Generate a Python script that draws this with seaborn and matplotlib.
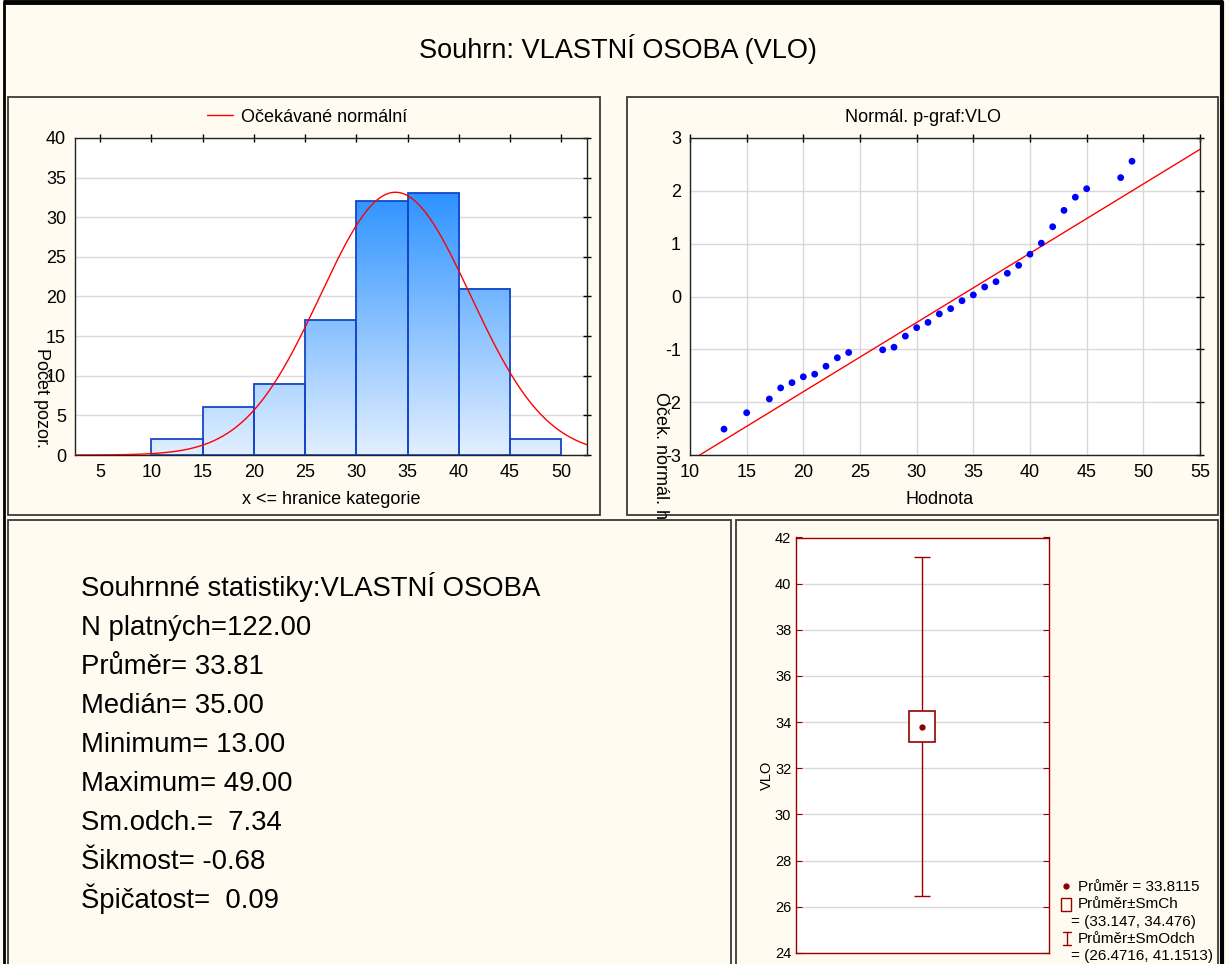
import numpy as np
import pandas as pd
import matplotlib
matplotlib.use("Agg")
import matplotlib.pyplot as plt
import seaborn as sns
from matplotlib.patches import Rectangle
from matplotlib.lines import Line2D
from matplotlib.colors import LinearSegmentedColormap, Normalize

# ---------------- data ----------------
bin_edges = [10, 15, 20, 25, 30, 35, 40, 45, 50]
bin_counts = [2, 6, 9, 17, 32, 33, 21, 2]
hist_xticks = [5, 10, 15, 20, 25, 30, 35, 40, 45, 50]
hist_yticks = [0, 5, 10, 15, 20, 25, 30, 35, 40]

n_valid = 122
mean_val = 33.8115
sd_val = 7.33985
median_val = 35.00
min_val = 13.00
max_val = 49.00
skew_val = -0.68
kurt_val = 0.09
se_low, se_high = 33.147, 34.476
sd_low, sd_high = 26.4716, 41.1513

pp_values = [13, 15, 17, 18, 19, 20, 21, 22, 23, 24, 27, 28, 29, 30, 31, 32,
             33, 34, 35, 36, 37, 38, 39, 40, 41, 42, 43, 44, 45, 48, 49]
pp_expected = [-2.51, -2.20, -1.94, -1.73, -1.63, -1.52, -1.47, -1.32, -1.16,
               -1.06, -1.01, -0.96, -0.75, -0.59, -0.49, -0.33, -0.23, -0.08,
               0.03, 0.18, 0.28, 0.44, 0.59, 0.80, 1.01, 1.32, 1.63, 1.88,
               2.04, 2.25, 2.56]
fit_center = 33.75
fit_scale = 7.63
pp_xticks = [10, 15, 20, 25, 30, 35, 40, 45, 50, 55]
pp_yticks = [-3, -2, -1, 0, 1, 2, 3]
box_yticks = [24, 26, 28, 30, 32, 34, 36, 38, 40, 42]

# ---------------- style ----------------
sns.set_style("white")
plt.rcParams["font.family"] = ["Liberation Sans", "DejaVu Sans"]
plt.rcParams["axes.unicode_minus"] = False
plt.rcParams["text.color"] = "black"
plt.rcParams["axes.labelcolor"] = "black"
plt.rcParams["xtick.color"] = "black"
plt.rcParams["ytick.color"] = "black"

W, H = 1230, 964
BG = "#FFFBF0"
DR = "#990000"
GRID = "#D9D9D9"

fig = plt.figure(figsize=(W / 100, H / 100), dpi=100)
fig.patch.set_facecolor(BG)

ov = fig.add_axes([0, 0, 1, 1], zorder=-5)
ov.set_xlim(0, W)
ov.set_ylim(H, 0)
ov.axis("off")

panels = [(8, 97, 600, 515), (627, 97, 1218, 515),
          (8, 520, 731, 990), (736, 520, 1218, 990)]
for x0, y0, x1, y1 in panels:
    ov.add_patch(Rectangle((x0, y0), x1 - x0, y1 - y0, facecolor=BG,
                           edgecolor="#3a3a3a", lw=1.3, zorder=1))
# outer frame
ov.plot([3, 1222], [2, 2], color="black", lw=3.5, solid_capstyle="butt", zorder=6)
ov.plot([3.5, 3.5], [2, H], color="black", lw=2, zorder=6)
ov.plot([1221.5, 1221.5], [2, H], color="black", lw=3, zorder=6)

ov.text(618, 49, "Souhrn: VLASTNÍ OSOBA (VLO)", ha="center", va="center",
        fontsize=19.5, color="black")


def ax_rect(l, t, r, b):
    return [l / W, 1 - b / H, (r - l) / W, (b - t) / H]


def style_axes(ax, spine_color="#222222"):
    for sp in ax.spines.values():
        sp.set_color(spine_color)
        sp.set_linewidth(1)
    ax.set_facecolor("white")


# ---------------- histogram ----------------
ax1 = fig.add_axes(ax_rect(75, 138, 587, 455))
style_axes(ax1)
centers = [(a + b) / 2 for a, b in zip(bin_edges[:-1], bin_edges[1:])]
df_hist = pd.DataFrame({"x": centers, "w": bin_counts})
sns.histplot(data=df_hist, x="x", weights="w", bins=bin_edges, ax=ax1,
             fill=False, color="#1446C8", linewidth=1.3, zorder=4)
cmap = LinearSegmentedColormap.from_list("g", ["#E2EFFF", "#2E93FF"])
norm = Normalize(0, 33)
for p in list(ax1.patches):
    x0, w, h = p.get_x(), p.get_width(), p.get_height()
    grad = np.linspace(0, h, 128).reshape(-1, 1)
    ax1.imshow(grad, extent=[x0, x0 + w, 0, h], cmap=cmap, norm=norm,
               aspect="auto", origin="lower", zorder=3)
xs = np.linspace(2.5, 52.6, 400)
binw = bin_edges[1] - bin_edges[0]
ys = n_valid * binw * np.exp(-0.5 * ((xs - mean_val) / sd_val) ** 2) / (sd_val * np.sqrt(2 * np.pi))
sns.lineplot(x=xs, y=ys, color="red", lw=1, ax=ax1, zorder=5)
ax1.set_xlim(2.55, 52.5)
ax1.set_ylim(0, 40)
ax1.set_xticks(hist_xticks)
ax1.set_yticks(hist_yticks)
ax1.yaxis.grid(True, color=GRID, lw=1)
ax1.set_axisbelow(True)
ax1.tick_params(direction="inout", length=6, top=True, right=True,
                labelsize=13, colors="black", width=1)
ax1.set_xlabel("")
ax1.set_ylabel("")
ax1.legend(handles=[Line2D([], [], color="red", lw=1)],
           labels=["Očekávané normální"], loc="center",
           bbox_to_anchor=(307 / W, 1 - 117 / H), bbox_transform=fig.transFigure,
           frameon=False, fontsize=13, handlelength=1.4, handletextpad=0.45,
           labelcolor="black")
ov.text(331, 500, "x <= hranice kategorie", ha="center", va="center", fontsize=13)
ov.text(41, 398, "Počet pozor.", ha="center", va="center", rotation=270, fontsize=13)

# ---------------- normal probability plot ----------------
ax2 = fig.add_axes(ax_rect(690, 138, 1200, 455))
style_axes(ax2)
sns.scatterplot(x=pp_values, y=pp_expected, color="#0000FF", s=24,
                edgecolor="none", ax=ax2, zorder=5)
fit_x = [pp_xticks[0], pp_xticks[-1]]
fit_y = [(v - fit_center) / fit_scale for v in fit_x]
sns.lineplot(x=fit_x, y=fit_y, color="red", lw=1, ax=ax2, zorder=4)
ax2.set_xlim(10, 55)
ax2.set_ylim(-3, 3)
ax2.set_xticks(pp_xticks)
ax2.set_yticks(pp_yticks)
ax2.grid(True, color=GRID, lw=1)
ax2.set_axisbelow(True)
ax2.tick_params(direction="inout", length=6, top=True, right=True,
                labelsize=13, colors="black", width=1)
ov.text(923, 117, "Normál. p-graf:VLO", ha="center", va="center", fontsize=13)
ov.text(940, 500, "Hodnota", ha="center", va="center", fontsize=13)
t = ov.text(660, 392, "Oček. normál. hodnota", ha="center", va="top",
            rotation=270, fontsize=13, zorder=2)
clip_rect = Rectangle((627, 97), 600, 423, transform=ov.transData)
t.set_clip_path(clip_rect)
t.set_clip_on(True)

# ---------------- statistics text ----------------
stat_lines = [
    "Souhrnné statistiky:VLASTNÍ OSOBA",
    f"N platných={n_valid:.2f}",
    f"Průměr= {mean_val:.2f}",
    f"Medián= {median_val:.2f}",
    f"Minimum= {min_val:.2f}",
    f"Maximum= {max_val:.2f}",
    f"Sm.odch.=  {sd_val:.2f}",
    f"Šikmost= {skew_val:.2f}",
    f"Špičatost=  {kurt_val:.2f}",
]
for i, line in enumerate(stat_lines):
    ov.text(81, 595.5 + i * 39.05, line, ha="left", va="baseline",
            fontsize=19.8, zorder=3)

# ---------------- mean / SE / SD plot ----------------
ax3 = fig.add_axes(ax_rect(795.5, 537.5, 1049, 953))
style_axes(ax3, DR)
ax3.set_xlim(-0.5, 0.5)
ax3.set_ylim(24, 42)
ax3.set_yticks(box_yticks)
ax3.set_xticks([])
ax3.yaxis.grid(True, color=GRID, lw=1)
ax3.set_axisbelow(True)
ax3.tick_params(axis="y", direction="in", length=4, color=DR, left=True,
                right=True, labelsize=10.5, pad=3, labelcolor="black")
cap = 0.032
ax3.vlines(0, sd_low, sd_high, color=DR, lw=1, zorder=3)
ax3.hlines([sd_low, sd_high], -cap, cap, color=DR, lw=1, zorder=3)
ax3.add_patch(Rectangle((-0.051, se_low), 0.102, se_high - se_low,
                        facecolor="white", edgecolor=DR, lw=1.2, zorder=4))
ax3.plot([0], [mean_val], "o", ms=3.5, color="#8B0000", zorder=5)
ov.text(767, 775, "VLO", ha="center", va="center", rotation=90, fontsize=10.5,
        zorder=3)

# legend of the mean plot
ov.plot([1066], [886], "o", ms=3.5, color="#8B0000", zorder=3)
ov.text(1078, 887, f"Průměr = {mean_val:.4f}", ha="left", va="center", fontsize=11, zorder=3)
ov.add_patch(Rectangle((1061, 898), 10, 13, facecolor="none", edgecolor=DR, lw=1, zorder=3))
ov.text(1078, 904, "Průměr±SmCh", ha="left", va="center", fontsize=11, zorder=3)
ov.text(1071, 922, f"= ({se_low:.3f}, {se_high:.3f})", ha="left", va="center", fontsize=11, zorder=3)
ov.plot([1066.5, 1066.5], [932, 945], color=DR, lw=1, zorder=3)
ov.plot([1062.5, 1070.5], [932, 932], color=DR, lw=1, zorder=3)
ov.plot([1062.5, 1070.5], [945, 945], color=DR, lw=1, zorder=3)
ov.text(1078, 939, "Průměr±SmOdch", ha="left", va="center", fontsize=11, zorder=3)
ov.text(1071, 956, f"= ({sd_low:.4f}, {sd_high:.4f})", ha="left", va="center", fontsize=11, zorder=3)

fig.savefig("out.png", dpi=100, facecolor=BG)
